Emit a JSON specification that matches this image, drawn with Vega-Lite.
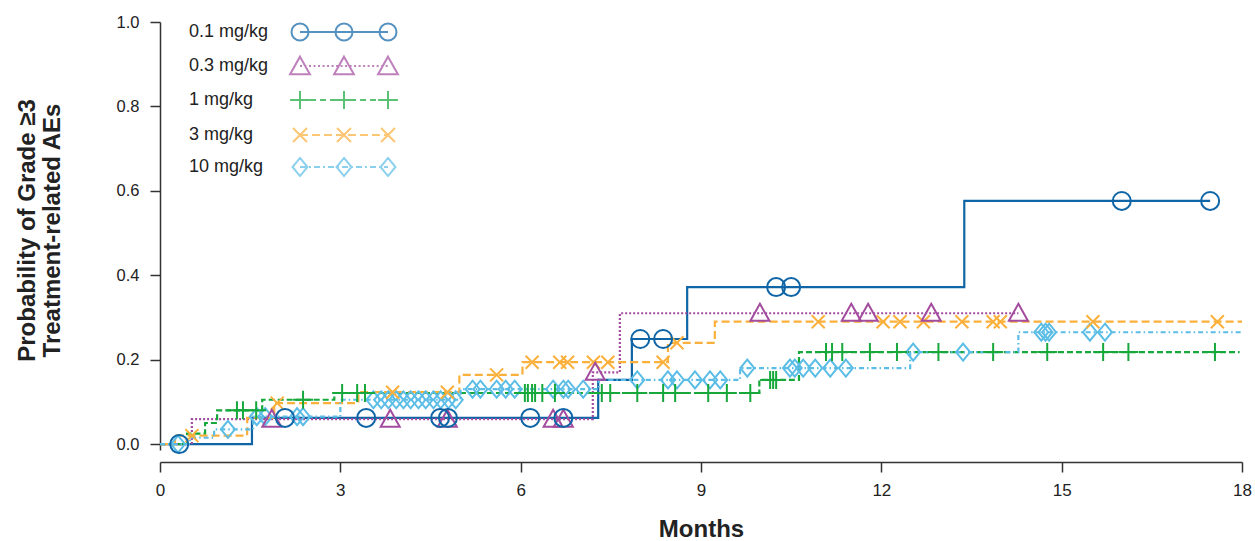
{
  "$schema": "https://vega.github.io/schema/vega-lite/v6.json",
  "width": 1082,
  "height": 428,
  "autosize": {"type": "none"},
  "padding": {"left": 160, "top": 22, "right": 13, "bottom": 91},
  "background": "white",
  "config": {
    "view": {"stroke": null},
    "font": "Liberation Sans",
    "axis": {"grid": false}
  },
  "datasets": {
    "curves": [
      {"d": "0.1 mg/kg", "t": 0, "p": 0}, {"d": "0.1 mg/kg", "t": 1.53, "p": 0.062}, {"d": "0.1 mg/kg", "t": 7.29, "p": 0.152}, {"d": "0.1 mg/kg", "t": 7.85, "p": 0.249}, {"d": "0.1 mg/kg", "t": 8.77, "p": 0.372}, {"d": "0.1 mg/kg", "t": 13.38, "p": 0.576}, {"d": "0.1 mg/kg", "t": 17.47, "p": 0.576},
      {"d": "0.3 mg/kg", "t": 0, "p": 0}, {"d": "0.3 mg/kg", "t": 0.53, "p": 0.059}, {"d": "0.3 mg/kg", "t": 7.2, "p": 0.17}, {"d": "0.3 mg/kg", "t": 7.65, "p": 0.31}, {"d": "0.3 mg/kg", "t": 14.28, "p": 0.31},
      {"d": "1 mg/kg", "t": 0, "p": 0}, {"d": "1 mg/kg", "t": 0.45, "p": 0.025}, {"d": "1 mg/kg", "t": 0.75, "p": 0.05}, {"d": "1 mg/kg", "t": 0.95, "p": 0.08}, {"d": "1 mg/kg", "t": 1.7, "p": 0.105}, {"d": "1 mg/kg", "t": 2.9, "p": 0.121}, {"d": "1 mg/kg", "t": 9.97, "p": 0.152}, {"d": "1 mg/kg", "t": 10.63, "p": 0.218}, {"d": "1 mg/kg", "t": 17.96, "p": 0.218},
      {"d": "3 mg/kg", "t": 0, "p": 0}, {"d": "3 mg/kg", "t": 0.25, "p": 0.02}, {"d": "3 mg/kg", "t": 1.45, "p": 0.062}, {"d": "3 mg/kg", "t": 1.9, "p": 0.097}, {"d": "3 mg/kg", "t": 3.3, "p": 0.123}, {"d": "3 mg/kg", "t": 4.98, "p": 0.164}, {"d": "3 mg/kg", "t": 6.03, "p": 0.194}, {"d": "3 mg/kg", "t": 8.45, "p": 0.24}, {"d": "3 mg/kg", "t": 9.23, "p": 0.29}, {"d": "3 mg/kg", "t": 18, "p": 0.29},
      {"d": "10 mg/kg", "t": 0, "p": 0}, {"d": "10 mg/kg", "t": 0.5, "p": 0.015}, {"d": "10 mg/kg", "t": 0.9, "p": 0.035}, {"d": "10 mg/kg", "t": 1.55, "p": 0.065}, {"d": "10 mg/kg", "t": 3.0, "p": 0.105}, {"d": "10 mg/kg", "t": 5.0, "p": 0.13}, {"d": "10 mg/kg", "t": 7.3, "p": 0.152}, {"d": "10 mg/kg", "t": 9.65, "p": 0.18}, {"d": "10 mg/kg", "t": 12.48, "p": 0.218}, {"d": "10 mg/kg", "t": 14.28, "p": 0.265}, {"d": "10 mg/kg", "t": 18, "p": 0.265}
    ],
    "events": [
      {"d": "0.1 mg/kg", "t": 0.32, "p": 0}, {"d": "0.1 mg/kg", "t": 2.08, "p": 0.062}, {"d": "0.1 mg/kg", "t": 3.43, "p": 0.062}, {"d": "0.1 mg/kg", "t": 4.66, "p": 0.062}, {"d": "0.1 mg/kg", "t": 4.79, "p": 0.062}, {"d": "0.1 mg/kg", "t": 6.16, "p": 0.062}, {"d": "0.1 mg/kg", "t": 6.71, "p": 0.062}, {"d": "0.1 mg/kg", "t": 7.99, "p": 0.249}, {"d": "0.1 mg/kg", "t": 8.37, "p": 0.249}, {"d": "0.1 mg/kg", "t": 10.25, "p": 0.372}, {"d": "0.1 mg/kg", "t": 10.5, "p": 0.372}, {"d": "0.1 mg/kg", "t": 16.0, "p": 0.576}, {"d": "0.1 mg/kg", "t": 17.47, "p": 0.576},
      {"d": "0.3 mg/kg", "t": 1.86, "p": 0.059}, {"d": "0.3 mg/kg", "t": 3.83, "p": 0.059}, {"d": "0.3 mg/kg", "t": 4.78, "p": 0.059}, {"d": "0.3 mg/kg", "t": 6.54, "p": 0.059}, {"d": "0.3 mg/kg", "t": 6.71, "p": 0.059}, {"d": "0.3 mg/kg", "t": 7.24, "p": 0.17}, {"d": "0.3 mg/kg", "t": 9.98, "p": 0.31}, {"d": "0.3 mg/kg", "t": 11.5, "p": 0.31}, {"d": "0.3 mg/kg", "t": 11.78, "p": 0.31}, {"d": "0.3 mg/kg", "t": 12.83, "p": 0.31}, {"d": "0.3 mg/kg", "t": 14.28, "p": 0.31},
      {"d": "1 mg/kg", "t": 1.28, "p": 0.08}, {"d": "1 mg/kg", "t": 1.38, "p": 0.08}, {"d": "1 mg/kg", "t": 1.6, "p": 0.08}, {"d": "1 mg/kg", "t": 2.38, "p": 0.105}, {"d": "1 mg/kg", "t": 3.03, "p": 0.121}, {"d": "1 mg/kg", "t": 3.28, "p": 0.121}, {"d": "1 mg/kg", "t": 3.41, "p": 0.121}, {"d": "1 mg/kg", "t": 6.07, "p": 0.121}, {"d": "1 mg/kg", "t": 6.12, "p": 0.121}, {"d": "1 mg/kg", "t": 6.19, "p": 0.121}, {"d": "1 mg/kg", "t": 6.24, "p": 0.121}, {"d": "1 mg/kg", "t": 6.36, "p": 0.121}, {"d": "1 mg/kg", "t": 6.57, "p": 0.121}, {"d": "1 mg/kg", "t": 7.35, "p": 0.121}, {"d": "1 mg/kg", "t": 7.49, "p": 0.121}, {"d": "1 mg/kg", "t": 7.94, "p": 0.121}, {"d": "1 mg/kg", "t": 8.37, "p": 0.121}, {"d": "1 mg/kg", "t": 8.57, "p": 0.121}, {"d": "1 mg/kg", "t": 9.12, "p": 0.121}, {"d": "1 mg/kg", "t": 9.43, "p": 0.121}, {"d": "1 mg/kg", "t": 9.82, "p": 0.121}, {"d": "1 mg/kg", "t": 10.15, "p": 0.152}, {"d": "1 mg/kg", "t": 10.2, "p": 0.152}, {"d": "1 mg/kg", "t": 10.25, "p": 0.152}, {"d": "1 mg/kg", "t": 11.08, "p": 0.218}, {"d": "1 mg/kg", "t": 11.18, "p": 0.218}, {"d": "1 mg/kg", "t": 11.35, "p": 0.218}, {"d": "1 mg/kg", "t": 11.81, "p": 0.218}, {"d": "1 mg/kg", "t": 12.26, "p": 0.218}, {"d": "1 mg/kg", "t": 12.95, "p": 0.218}, {"d": "1 mg/kg", "t": 13.86, "p": 0.218}, {"d": "1 mg/kg", "t": 14.76, "p": 0.218}, {"d": "1 mg/kg", "t": 15.69, "p": 0.218}, {"d": "1 mg/kg", "t": 16.11, "p": 0.218}, {"d": "1 mg/kg", "t": 17.55, "p": 0.218},
      {"d": "3 mg/kg", "t": 0.53, "p": 0.02}, {"d": "3 mg/kg", "t": 1.95, "p": 0.097}, {"d": "3 mg/kg", "t": 3.87, "p": 0.123}, {"d": "3 mg/kg", "t": 4.78, "p": 0.123}, {"d": "3 mg/kg", "t": 5.6, "p": 0.164}, {"d": "3 mg/kg", "t": 6.19, "p": 0.194}, {"d": "3 mg/kg", "t": 6.65, "p": 0.194}, {"d": "3 mg/kg", "t": 6.78, "p": 0.194}, {"d": "3 mg/kg", "t": 7.21, "p": 0.194}, {"d": "3 mg/kg", "t": 7.45, "p": 0.194}, {"d": "3 mg/kg", "t": 8.37, "p": 0.194}, {"d": "3 mg/kg", "t": 8.6, "p": 0.24}, {"d": "3 mg/kg", "t": 10.95, "p": 0.29}, {"d": "3 mg/kg", "t": 12.03, "p": 0.29}, {"d": "3 mg/kg", "t": 12.31, "p": 0.29}, {"d": "3 mg/kg", "t": 12.7, "p": 0.29}, {"d": "3 mg/kg", "t": 13.34, "p": 0.29}, {"d": "3 mg/kg", "t": 13.86, "p": 0.29}, {"d": "3 mg/kg", "t": 13.98, "p": 0.29}, {"d": "3 mg/kg", "t": 15.52, "p": 0.29}, {"d": "3 mg/kg", "t": 17.59, "p": 0.29},
      {"d": "10 mg/kg", "t": 0.3, "p": 0}, {"d": "10 mg/kg", "t": 1.13, "p": 0.035}, {"d": "10 mg/kg", "t": 1.61, "p": 0.065}, {"d": "10 mg/kg", "t": 1.75, "p": 0.065}, {"d": "10 mg/kg", "t": 2.28, "p": 0.065}, {"d": "10 mg/kg", "t": 2.38, "p": 0.065}, {"d": "10 mg/kg", "t": 3.55, "p": 0.105}, {"d": "10 mg/kg", "t": 3.68, "p": 0.105}, {"d": "10 mg/kg", "t": 3.8, "p": 0.105}, {"d": "10 mg/kg", "t": 3.93, "p": 0.105}, {"d": "10 mg/kg", "t": 4.05, "p": 0.105}, {"d": "10 mg/kg", "t": 4.17, "p": 0.105}, {"d": "10 mg/kg", "t": 4.3, "p": 0.105}, {"d": "10 mg/kg", "t": 4.42, "p": 0.105}, {"d": "10 mg/kg", "t": 4.55, "p": 0.105}, {"d": "10 mg/kg", "t": 4.67, "p": 0.105}, {"d": "10 mg/kg", "t": 4.8, "p": 0.105}, {"d": "10 mg/kg", "t": 4.92, "p": 0.105}, {"d": "10 mg/kg", "t": 5.2, "p": 0.13}, {"d": "10 mg/kg", "t": 5.33, "p": 0.13}, {"d": "10 mg/kg", "t": 5.6, "p": 0.13}, {"d": "10 mg/kg", "t": 5.75, "p": 0.13}, {"d": "10 mg/kg", "t": 5.9, "p": 0.13}, {"d": "10 mg/kg", "t": 6.54, "p": 0.13}, {"d": "10 mg/kg", "t": 6.71, "p": 0.13}, {"d": "10 mg/kg", "t": 6.79, "p": 0.13}, {"d": "10 mg/kg", "t": 7.04, "p": 0.13}, {"d": "10 mg/kg", "t": 7.94, "p": 0.152}, {"d": "10 mg/kg", "t": 8.45, "p": 0.152}, {"d": "10 mg/kg", "t": 8.6, "p": 0.152}, {"d": "10 mg/kg", "t": 8.9, "p": 0.152}, {"d": "10 mg/kg", "t": 9.15, "p": 0.152}, {"d": "10 mg/kg", "t": 9.32, "p": 0.152}, {"d": "10 mg/kg", "t": 9.77, "p": 0.18}, {"d": "10 mg/kg", "t": 10.48, "p": 0.18}, {"d": "10 mg/kg", "t": 10.56, "p": 0.18}, {"d": "10 mg/kg", "t": 10.7, "p": 0.18}, {"d": "10 mg/kg", "t": 10.9, "p": 0.18}, {"d": "10 mg/kg", "t": 11.15, "p": 0.18}, {"d": "10 mg/kg", "t": 11.41, "p": 0.18}, {"d": "10 mg/kg", "t": 12.53, "p": 0.218}, {"d": "10 mg/kg", "t": 13.36, "p": 0.218}, {"d": "10 mg/kg", "t": 14.66, "p": 0.265}, {"d": "10 mg/kg", "t": 14.73, "p": 0.265}, {"d": "10 mg/kg", "t": 14.79, "p": 0.265}, {"d": "10 mg/kg", "t": 15.47, "p": 0.265}, {"d": "10 mg/kg", "t": 15.72, "p": 0.265}
    ]
  },
  "encoding": {
    "x": {"field": "t", "type": "quantitative", "scale": {"domain": [0, 18], "nice": false, "zero": false},
      "axis": {"values": [0, 3, 6, 9, 12, 15, 18], "format": "d", "title": "Months", "offset": 12, "domainColor": "#333", "domainWidth": 1.5, "tickColor": "#333", "tickWidth": 1.5, "tickSize": 10,
        "labelFontSize": 17, "labelColor": "#222", "labelPadding": 10, "labelFlush": false,
        "titleFontSize": 24, "titleFontWeight": "bold", "titleColor": "#222", "titleBaseline": "alphabetic", "titleY": 74}},
    "y": {"field": "p", "type": "quantitative", "scale": {"domain": [-0.014, 1], "nice": false, "zero": false},
      "axis": {"values": [0, 0.2, 0.4, 0.6, 0.8, 1.0], "format": ".1f", "title": ["Probability of Grade ≥3", "Treatment-related AEs"], "domainColor": "#333", "domainWidth": 1.5, "tickColor": "#333", "tickWidth": 1.5, "tickSize": 10,
        "labelFontSize": 16.5, "labelColor": "#222", "labelPadding": 11,
        "titleFontSize": 24, "titleFontWeight": "bold", "titleColor": "#222", "titleBaseline": "alphabetic", "titleAlign": "center", "titleAngle": -90, "titleX": -126, "titleY": 208, "titleLineHeight": 25}},
    "color": {"field": "d", "type": "nominal",
      "scale": {"domain": ["0.1 mg/kg", "0.3 mg/kg", "1 mg/kg", "3 mg/kg", "10 mg/kg"], "range": ["#0F65A5", "#A34C9F", "#16A83B", "#FBB03B", "#5BBDE6"]},
      "legend": {"orient": "none", "legendX": 163, "legendY": -11, "title": null, "padding": 0, "rowPadding": 0, "symbolSize": 1600, "symbolStrokeWidth": 2, "labelOffset": -176, "labelFontSize": 18, "labelColor": "#222", "labelLimit": 0}}
  },
  "layer": [
    {
      "data": {"name": "events"},
      "transform": [{"filter": "datum.t < 0"}],
      "mark": {"type": "point", "filled": false, "strokeWidth": 2},
      "encoding": {
        "shape": {"field": "d", "type": "nominal", "legend": null, "scale": {"domain": ["0.1 mg/kg", "0.3 mg/kg", "1 mg/kg", "3 mg/kg", "10 mg/kg"], "range": [
          "M-2.2,0L2.2,0M-1.774,0A0.426,0.426 0 1,1 -2.626,0A0.426,0.426 0 1,1 -1.774,0M0.426,0A0.426,0.426 0 1,1 -0.426,0A0.426,0.426 0 1,1 0.426,0M2.626,0A0.426,0.426 0 1,1 1.774,0A0.426,0.426 0 1,1 2.626,0",
          "M-2.2,-0.468L-1.705,0.413L-2.695,0.413ZM0,-0.468L0.495,0.413L-0.495,0.413ZM2.2,-0.468L2.695,0.413L1.705,0.413ZM-2.2,0L-2.101,0M-1.9745,0L-1.8755,0M-1.749,0L-1.65,0M-1.5235,0L-1.4245,0M-1.298,0L-1.199,0M-1.0725,0L-0.9735,0M-0.847,0L-0.748,0M-0.6215,0L-0.5225,0M-0.396,0L-0.297,0M-0.1705,0L-0.0715,0M0.055,0L0.154,0M0.2805,0L0.3795,0M0.506,0L0.605,0M0.7315,0L0.8305,0M0.957,0L1.056,0M1.1825,0L1.2815,0M1.408,0L1.507,0M1.6335,0L1.7325,0M1.859,0L1.958,0M2.0845,0L2.1835,0",
          "M-2.695,0L-1.705,0M-2.2,-0.451L-2.2,0.451M-0.495,0L0.495,0M0,-0.451L0,0.451M1.705,0L2.695,0M2.2,-0.451L2.2,0.451M-2.2,0L-1.9,0M-1.6995,0L-1.3998,0M-1.199,0L-0.8993,0M-0.6985,0L-0.3988,0M-0.198,0L0.1018,0M0.3025,0L0.6023,0M0.803,0L1.1028,0M1.3035,0L1.6033,0M1.804,0L2.1038,0",
          "M-2.549,-0.349L-1.851,0.349M-2.549,0.349L-1.851,-0.349M-0.349,-0.349L0.349,0.349M-0.349,0.349L0.349,-0.349M1.851,-0.349L2.549,0.349M1.851,0.349L2.549,-0.349M-2.2,0L-1.801,0M-1.6005,0L-1.2018,0M-1.001,0L-0.6023,0M-0.4015,0L-0.0028,0M0.198,0L0.5968,0M0.7975,0L1.1963,0M1.397,0L1.7958,0M1.9965,0L2.2,0",
          "M-2.2,-0.451L-1.826,0L-2.2,0.451L-2.574,0ZM0,-0.451L0.374,0L0,0.451L-0.374,0ZM2.2,-0.451L2.574,0L2.2,0.451L1.826,0ZM-2.2,0L-1.9,0M-1.7504,0L-1.6514,0M-1.5001,0L-1.2004,0M-1.0505,0L-0.9515,0M-0.8003,0L-0.5005,0M-0.3506,0L-0.2516,0M-0.1004,0L0.1994,0M0.3493,0L0.4483,0M0.5995,0L0.8993,0M1.0491,0L1.1481,0M1.2994,0L1.5991,0M1.749,0L1.848,0M1.9993,0L2.2,0"]}}
      }
    },
    {
      "data": {"name": "curves"},
      "mark": {"type": "line", "interpolate": "step-after", "strokeWidth": 2.2},
      "encoding": {
        "strokeDash": {"field": "d", "type": "nominal", "legend": null, "scale": {"domain": ["10 mg/kg", "3 mg/kg", "1 mg/kg", "0.3 mg/kg", "0.1 mg/kg"], "range": [[5, 3, 1.5, 3], [8, 4], [6, 3], [2, 2], [1, 0]]}}
      }
    },
    {
      "data": {"name": "events"},
      "transform": [{"filter": "datum.d === '10 mg/kg'"}],
      "mark": {"type": "point", "filled": false, "strokeWidth": 2, "size": 400, "opacity": 1, "shape": "M0,-0.85L0.7,0L0,0.85L-0.7,0Z"}
    },
    {
      "data": {"name": "events"},
      "transform": [{"filter": "datum.d === '3 mg/kg'"}],
      "mark": {"type": "point", "filled": false, "strokeWidth": 2, "size": 400, "opacity": 1, "shape": "M-0.65,-0.65L0.65,0.65M-0.65,0.65L0.65,-0.65"}
    },
    {
      "data": {"name": "events"},
      "transform": [{"filter": "datum.d === '1 mg/kg'"}],
      "mark": {"type": "point", "filled": false, "strokeWidth": 2, "size": 400, "opacity": 1, "shape": "M-1,0L1,0M0,-0.9L0,0.9"}
    },
    {
      "data": {"name": "events"},
      "transform": [{"filter": "datum.d === '0.3 mg/kg'"}],
      "mark": {"type": "point", "filled": false, "strokeWidth": 2, "size": 400, "opacity": 1, "shape": "M0,-0.95L0.95,0.75L-0.95,0.75Z"}
    },
    {
      "data": {"name": "events"},
      "transform": [{"filter": "datum.d === '0.1 mg/kg'"}],
      "mark": {"type": "point", "filled": false, "strokeWidth": 2, "size": 400, "opacity": 1, "shape": "M0.9,0A0.9,0.9 0 1,1 -0.9,0A0.9,0.9 0 1,1 0.9,0"}
    }
  ]
}
